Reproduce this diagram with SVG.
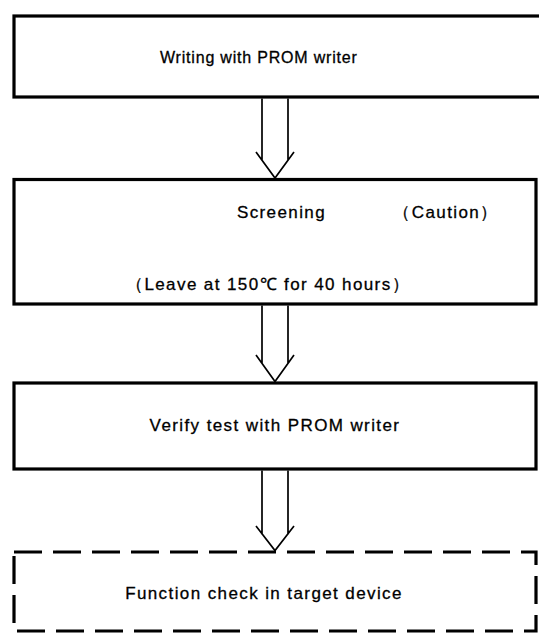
<svg xmlns="http://www.w3.org/2000/svg" width="539" height="634" viewBox="0 0 539 634">
<style>
.box{fill:none;stroke:#000;stroke-width:3.2}
.dash{fill:none;stroke:#000;stroke-width:3.2;stroke-dasharray:28 11}
.arr{fill:none;stroke:#000;stroke-width:1.7;stroke-linejoin:miter}
text{font-family:"Liberation Sans",Arial,sans-serif;font-size:17px;fill:#000;stroke:#000;stroke-width:0.3;letter-spacing:1.4px}
.t1{font-size:16px;letter-spacing:0.8px}
</style>
<rect width="539" height="634" fill="#fff"/>
<g id="n1">
<rect class="box" x="14" y="16" width="540" height="81"/>
<text class="t1" x="160" y="63">Writing with PROM writer</text>
</g>
<g id="n2">
<rect class="box" x="14" y="179.5" width="522" height="124.5"/>
<text x="281.5" y="218" text-anchor="middle">Screening</text>
<text x="446" y="218" text-anchor="middle">（Caution）</text>
<text x="268" y="290" text-anchor="middle">（Leave at 150℃ for 40 hours）</text>
</g>
<g id="n3">
<rect class="box" x="14" y="383" width="522" height="86"/>
<text x="275" y="431" text-anchor="middle">Verify test with PROM writer</text>
</g>
<g id="n4">
<rect class="dash" x="14" y="552" width="522" height="79"/>
<text x="264" y="599" text-anchor="middle">Function check in target device</text>
</g>
<g id="connectors">
<path class="arr" d="M262 98.5V160.5M288 98.5V160.5M256 152L275 178L294 152"/>
<path class="arr" d="M262 305.5V363.5M288 305.5V363.5M256 355L275 381.5L294 355"/>
<path class="arr" d="M262 470.5V534.5M288 470.5V534.5M256 526L275 550.5L294 526"/>
</g>
</svg>
